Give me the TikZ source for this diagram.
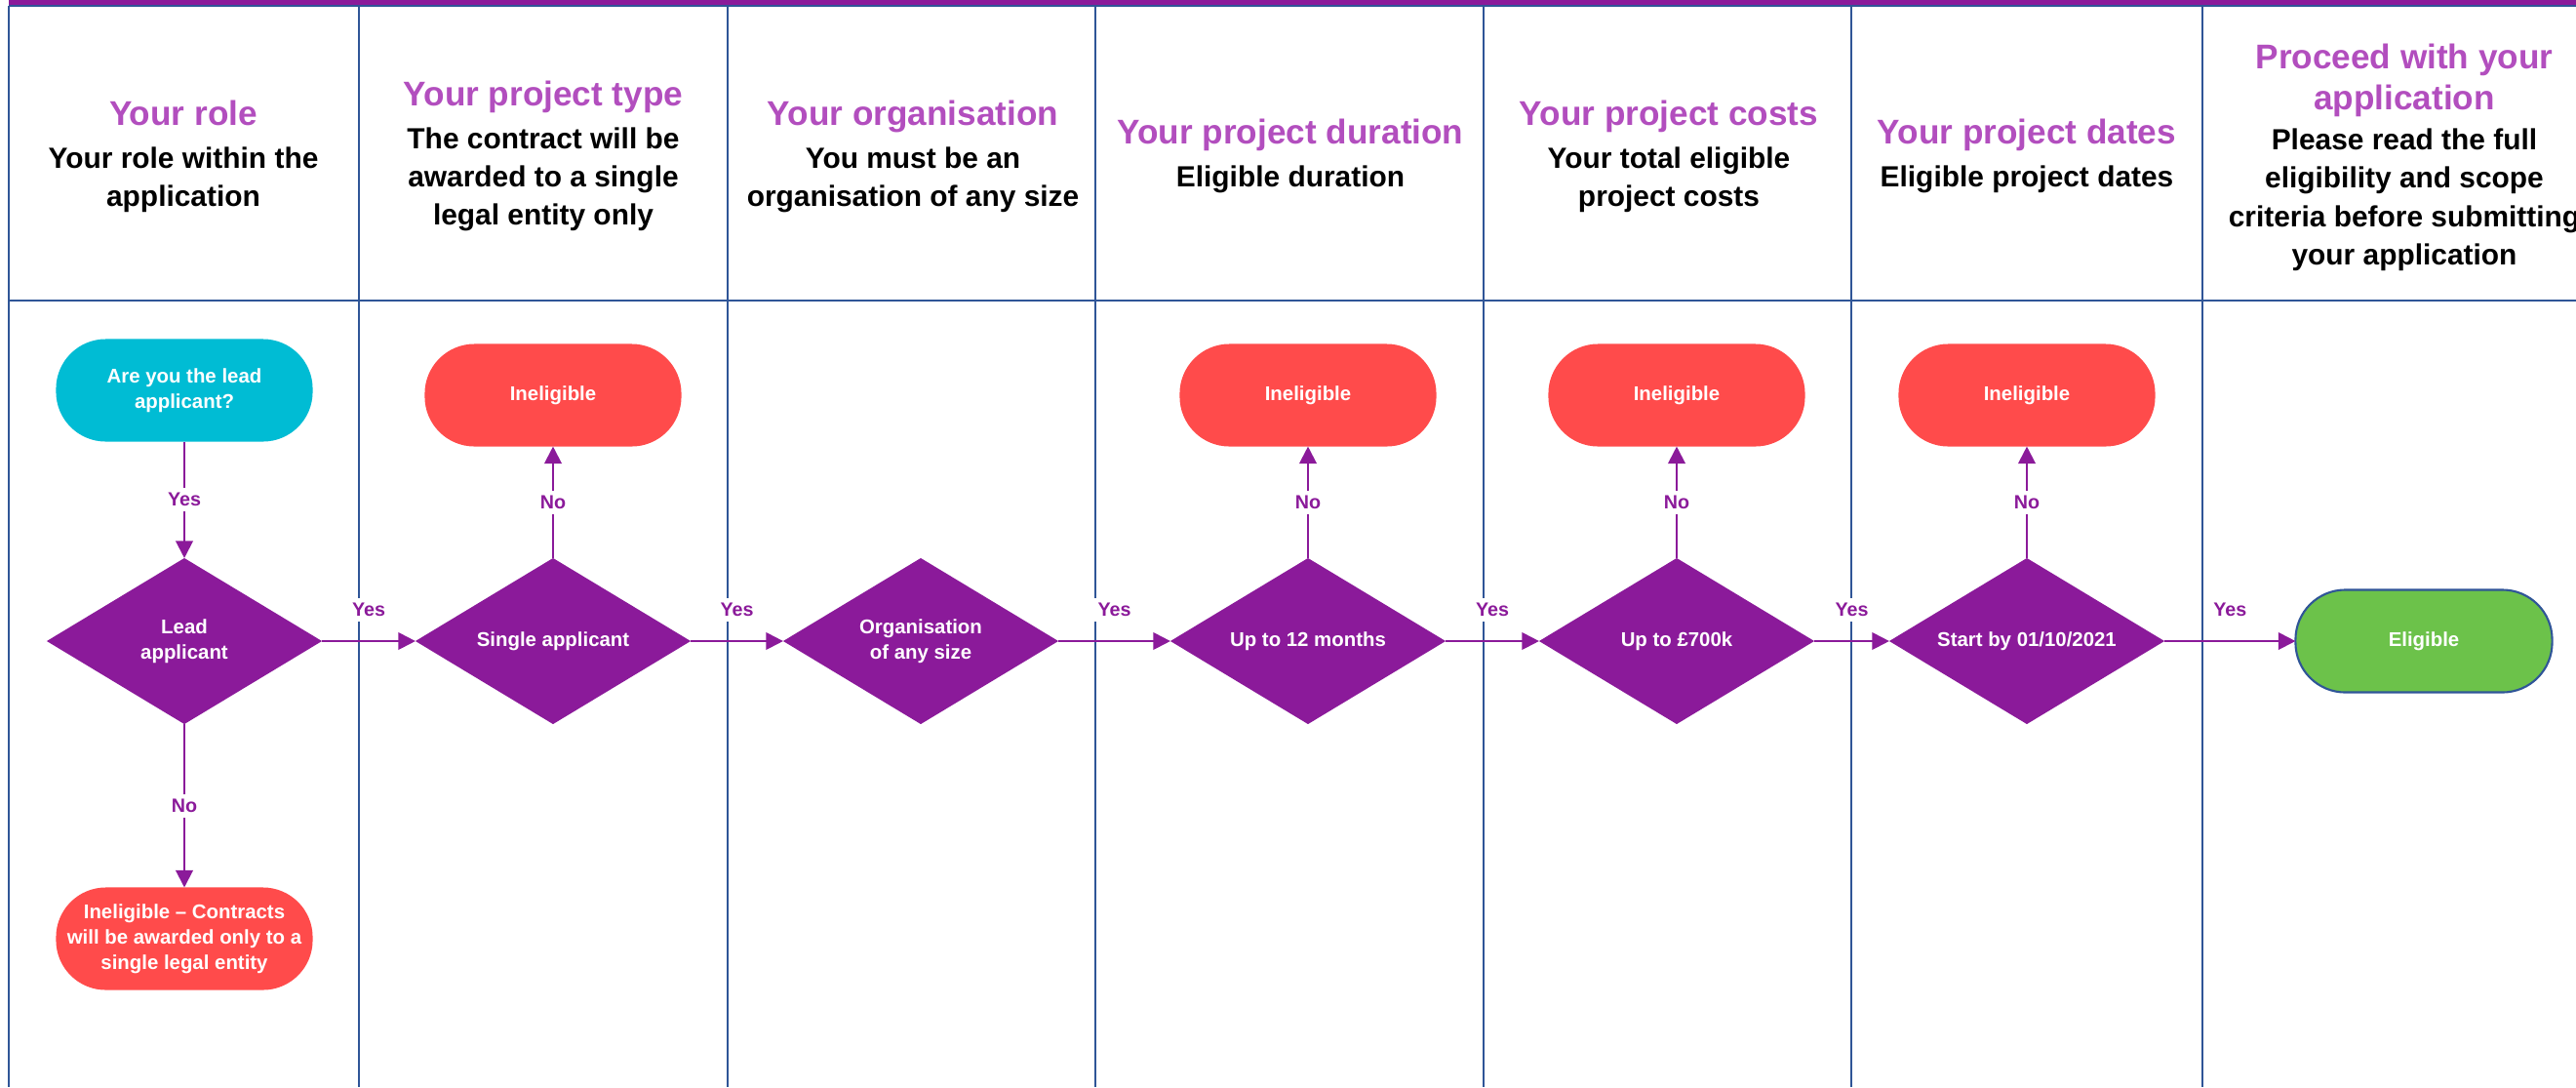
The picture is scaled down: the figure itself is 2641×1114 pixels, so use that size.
\documentclass[tikz,border=0pt]{standalone}
\usepackage{fontspec}
\setmainfont{Liberation Sans}
\usetikzlibrary{shapes.geometric,arrows.meta}

\definecolor{flowpurple}{RGB}{139,26,154}
\definecolor{headpurple}{RGB}{178,78,190}
\definecolor{gridblue}{RGB}{47,85,151}
\definecolor{stopred}{RGB}{255,75,75}
\definecolor{startcyan}{RGB}{0,188,212}
\definecolor{okgreen}{RGB}{108,194,74}

\newcommand{\headtitle}[1]{{\color{headpurple}\fontsize{10}{12}\selectfont #1}}

\begin{document}
\begin{tikzpicture}[x=0.01cm,y=-0.01cm,
    lane/.style={draw=gridblue,line width=0.8pt},
    headtext/.style={align=center,font=\bfseries\fontsize{8.5}{11.1}\selectfont},
    term/.style={rectangle,rounded corners=0.51cm,minimum width=2.63cm,minimum height=1.05cm,
        inner sep=0pt,outer sep=0pt,align=center,text=white,font=\bfseries\fontsize{5.8}{7.4}\selectfont},
    ineligible/.style={term,fill=stopred},
    decision/.style={diamond,aspect=1.66,fill=flowpurple,minimum width=2.82cm,minimum height=1.7cm,
        inner sep=0pt,outer sep=0pt,align=center,text=white,font=\bfseries\fontsize{5.8}{7.4}\selectfont},
    flow/.style={draw=flowpurple,line width=0.6pt,-{Triangle[length=5pt,width=5pt]}},
    answer/.style={fill=white,text=flowpurple,inner sep=1.5pt,font=\bfseries\fontsize{5.6}{6.7}\selectfont}]
    \useasboundingbox (0,0) rectangle (2641,1114);

    \coordinate (T0) at (9, 6);
    \coordinate (T1) at (2641, 6);
    \coordinate (M0) at (9, 308);
    \coordinate (M1) at (2641, 308);

    \fill[flowpurple] (9,0) rectangle (2641,5); % top bar
    \draw[lane] (T0) -- (T1); % top
    \draw[lane] (M0) -- (M1); % under the headings
    \draw[lane] (T0) -- (9,1114); % left
    \draw[lane] (368,6) -- (368,1114);
    \draw[lane] (746,6) -- (746,1114);
    \draw[lane] (1123,6) -- (1123,1114);
    \draw[lane] (1521,6) -- (1521,1114);
    \draw[lane] (1898,6) -- (1898,1114);
    \draw[lane] (2258,6) -- (2258,1114);

%headings
    \node[headtext] (H1) at (188,160) {\headtitle{Your role}\\[1.4pt] Your role within the\\ application};
    \node[headtext] (H2) at (557,160) {\headtitle{Your project type}\\[1.4pt] The contract will be\\ awarded to a single\\ legal entity only};
    \node[headtext] (H3) at (936,160) {\headtitle{Your organisation}\\[1.4pt] You must be an\\ organisation of any size};
    \node[headtext] (H4) at (1323,160) {\headtitle{Your project duration}\\[1.4pt] Eligible duration};
    \node[headtext] (H5) at (1711,160) {\headtitle{Your project costs}\\[1.4pt] Your total eligible\\ project costs};
    \node[headtext] (H6) at (2078,160) {\headtitle{Your project dates}\\[1.4pt] Eligible project dates};
    \node[headtext] (H7) at (2465,161) {\headtitle{Proceed with your}\\[1pt] \headtitle{application}\\[0.6pt] Please read the full\\ eligibility and scope\\ criteria before submitting\\ your application};

%flow
    \node[term,fill=startcyan] (Q) at (189,400) {Are you the lead\\applicant?};
    \node[decision] (D1) at (189,657) {Lead\\applicant};
    \node[decision] (D2) at (567,657) {Single applicant};
    \node[decision] (D3) at (944,657) {Organisation\\of any size};
    \node[decision] (D4) at (1341,657) {Up to 12 months};
    \node[decision] (D5) at (1719,657) {Up to £700k};
    \node[decision] (D6) at (2078,657) {Start by 01/10/2021};
    \node[ineligible] (N1) at (189,962) {Ineligible – Contracts\\will be awarded only to a\\single legal entity};
    \node[ineligible] (N2) at (567,405) {Ineligible};
    \node[ineligible] (N4) at (1341,405) {Ineligible};
    \node[ineligible] (N5) at (1719,405) {Ineligible};
    \node[ineligible] (N6) at (2078,405) {Ineligible};
    \node[term,fill=okgreen,draw=gridblue,line width=0.6pt] (E) at (2485,657) {Eligible};

    \draw[flow] (Q) -- node[answer,midway]{Yes} (D1);
    \draw[flow] (D1) -- node[answer,midway]{No} (N1);
    \draw[flow] (D1) -- node[answer,midway,above=5.3pt]{Yes} (D2);
    \draw[flow] (D2) -- node[answer,midway]{No} (N2);
    \draw[flow] (D2) -- node[answer,midway,above=5.3pt]{Yes} (D3);
    \draw[flow] (D3) -- node[answer,midway,above=5.3pt]{Yes} (D4);
    \draw[flow] (D4) -- node[answer,midway]{No} (N4);
    \draw[flow] (D4) -- node[answer,midway,above=5.3pt]{Yes} (D5);
    \draw[flow] (D5) -- node[answer,midway]{No} (N5);
    \draw[flow] (D5) -- node[answer,midway,above=5.3pt]{Yes} (D6);
    \draw[flow] (D6) -- node[answer,midway]{No} (N6);
    \draw[flow] (D6) -- node[answer,midway,above=5.3pt]{Yes} (E);

\end{tikzpicture}
\end{document}
